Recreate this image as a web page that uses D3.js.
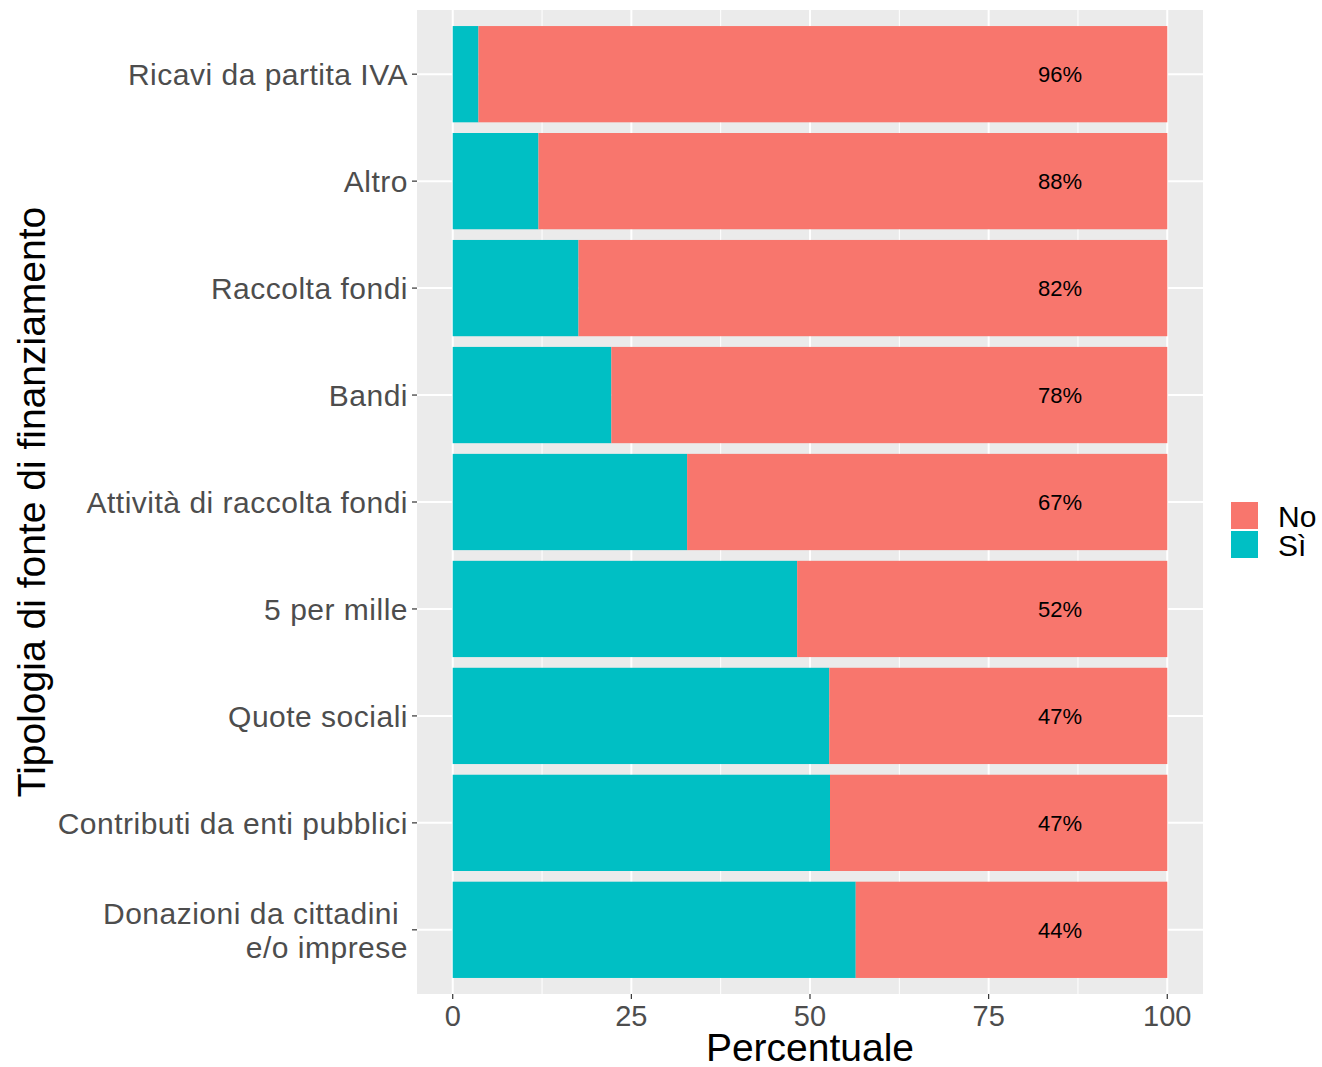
<!DOCTYPE html>
<html>
<head>
<meta charset="utf-8">
<script src="https://cdn.jsdelivr.net/npm/d3@7"></script>
<style>
  body { margin: 0; background: #fff; }
  text { font-family: "Liberation Sans", Arial, sans-serif; }
</style>
</head>
<body>
<div id="chart"></div>
<script>
// Chart size
var svgWidth = 1322;
var svgHeight = 1067;

var margin = { top: 10, right: 119, bottom: 73, left: 417 };
var width = svgWidth - margin.left - margin.right;
var height = svgHeight - margin.top - margin.bottom;

// Data
var categories = [
  "Ricavi da partita IVA",
  "Altro",
  "Raccolta fondi",
  "Bandi",
  "Attività di raccolta fondi",
  "5 per mille",
  "Quote sociali",
  "Contributi da enti pubblici",
  "Donazioni da cittadini \ne/o imprese"
];
var siValues = [3.6, 12, 17.6, 22.2, 32.8, 48.2, 52.7, 52.8, 56.4];
var noValues = [96.4, 88, 82.4, 77.8, 67.2, 51.8, 47.3, 47.2, 43.6];
var labelPos = 85;
var xTicks = [0, 25, 50, 75, 100];
var legendKeys = ["No", "Sì"];

var colors = { "No": "#F8766D", "Sì": "#00BFC4" };

var svg = d3.select("#chart")
  .append("svg")
  .attr("width", svgWidth)
  .attr("height", svgHeight);

var chartGroup = svg.append("g")
  .attr("transform", `translate(${margin.left}, ${margin.top})`);

// Scales (ggplot style expansion)
var xScale = d3.scaleLinear()
  .domain([-5, 105])
  .range([0, width]);

var yIndex = d3.scaleLinear()
  .domain([-0.6, categories.length - 0.4])
  .range([0, height]);

// Panel background
chartGroup.append("rect")
  .attr("width", width)
  .attr("height", height)
  .attr("fill", "#EBEBEB");

// Minor grid
var minor = [12.5, 37.5, 62.5, 87.5];
chartGroup.selectAll(".minor")
  .data(minor)
  .join("line")
  .attr("x1", d => xScale(d)).attr("x2", d => xScale(d))
  .attr("y1", 0).attr("y2", height)
  .attr("stroke", "#fff").attr("stroke-width", 1);

// Major grid
chartGroup.selectAll(".majorx")
  .data(xTicks)
  .join("line")
  .attr("x1", d => xScale(d)).attr("x2", d => xScale(d))
  .attr("y1", 0).attr("y2", height)
  .attr("stroke", "#fff").attr("stroke-width", 2);

chartGroup.selectAll(".majory")
  .data(categories)
  .join("line")
  .attr("x1", 0).attr("x2", width)
  .attr("y1", (d, i) => yIndex(i)).attr("y2", (d, i) => yIndex(i))
  .attr("stroke", "#fff").attr("stroke-width", 2);

// Bars
var barH = yIndex(0.45) - yIndex(-0.45);

chartGroup.selectAll(".si")
  .data(siValues)
  .join("rect")
  .attr("x", xScale(0))
  .attr("y", (d, i) => yIndex(i) - barH / 2)
  .attr("width", d => xScale(d) - xScale(0))
  .attr("height", barH)
  .attr("fill", colors["Sì"]);

chartGroup.selectAll(".no")
  .data(noValues)
  .join("rect")
  .attr("x", (d, i) => xScale(siValues[i]))
  .attr("y", (d, i) => yIndex(i) - barH / 2)
  .attr("width", (d, i) => xScale(siValues[i] + d) - xScale(siValues[i]))
  .attr("height", barH)
  .attr("fill", colors["No"]);

// Bar labels
chartGroup.selectAll(".lab")
  .data(noValues)
  .join("text")
  .attr("x", xScale(labelPos))
  .attr("y", (d, i) => yIndex(i) + 8)
  .attr("text-anchor", "middle")
  .attr("font-size", "22px")
  .attr("fill", "#000")
  .text(d => Math.round(d) + "%");

// X axis
var xAxis = chartGroup.append("g")
  .attr("transform", `translate(0, ${height})`);
xAxis.selectAll("line")
  .data(xTicks)
  .join("line")
  .attr("x1", d => xScale(d)).attr("x2", d => xScale(d))
  .attr("y1", 0).attr("y2", 5)
  .attr("stroke", "#333").attr("stroke-width", 1.2);
xAxis.selectAll("text")
  .data(xTicks)
  .join("text")
  .attr("x", d => xScale(d))
  .attr("y", 32)
  .attr("text-anchor", "middle")
  .attr("font-size", "29px")
  .attr("fill", "#4D4D4D")
  .text(d => d);

// Y axis
var yAxis = chartGroup.append("g");
yAxis.selectAll("line")
  .data(categories)
  .join("line")
  .attr("x1", -5).attr("x2", 0)
  .attr("y1", (d, i) => yIndex(i)).attr("y2", (d, i) => yIndex(i))
  .attr("stroke", "#333").attr("stroke-width", 1.2);
yAxis.selectAll("text")
  .data(categories)
  .join("text")
  .attr("x", -9)
  .attr("y", (d, i) => yIndex(i))
  .attr("text-anchor", "end")
  .attr("font-size", "30px")
  .attr("letter-spacing", "0.5px")
  .attr("fill", "#4D4D4D")
  .style("white-space", "pre")
  .each(function(d) {
    var lines = d.split("\n");
    var el = d3.select(this);
    var lh = 34;
    var start = -(lines.length - 1) * lh / 2 + 11;
    lines.forEach((l, j) => {
      el.append("tspan")
        .attr("x", -9)
        .attr("y", el.attr("y") * 1 + start + j * lh)
        .text(l);
    });
  });

// Axis titles
chartGroup.append("text")
  .attr("x", width / 2)
  .attr("y", height + 67)
  .attr("text-anchor", "middle")
  .attr("font-size", "39px")
  .attr("fill", "#000")
  .text("Percentuale");

svg.append("text")
  .attr("transform", `translate(45, ${margin.top + height / 2}) rotate(-90)`)
  .attr("text-anchor", "middle")
  .attr("font-size", "39px")
  .attr("fill", "#000")
  .text("Tipologia di fonte di finanziamento");

// Legend
var legend = svg.append("g")
  .attr("transform", "translate(1231, 502)");
legend.selectAll("rect")
  .data(legendKeys)
  .join("rect")
  .attr("x", 0)
  .attr("y", (d, i) => i * 29)
  .attr("width", 27)
  .attr("height", 27)
  .attr("fill", d => colors[d]);
legend.selectAll("text")
  .data(legendKeys)
  .join("text")
  .attr("x", 47)
  .attr("y", (d, i) => i * 29 + 25)
  .attr("font-size", "30px")
  .attr("fill", "#000")
  .text(d => d);
</script>
</body>
</html>
